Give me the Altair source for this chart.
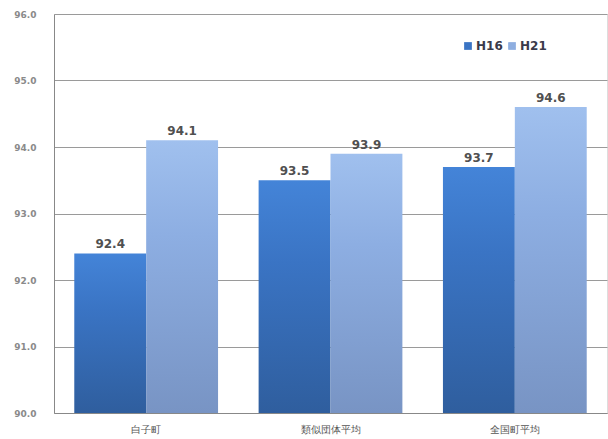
import altair as alt
import pandas as pd

categories = ["白子町", "類似団体平均", "全国町平均"]
series = ["H16", "H21"]
h16 = [92.4, 93.5, 93.7]
h21 = [94.1, 93.9, 94.6]

rows = []
for c, a, b in zip(categories, h16, h21):
    rows.append({"cat": c, "series": "H16", "value": a})
    rows.append({"cat": c, "series": "H21", "value": b})
df = pd.DataFrame(rows)

dark = alt.Gradient(gradient="linear", x1=0, y1=0, x2=0, y2=1,
                    stops=[alt.GradientStop(color="#4484d8", offset=0),
                           alt.GradientStop(color="#3a74c4", offset=0.35),
                           alt.GradientStop(color="#2f5e9e", offset=1)])
light = alt.Gradient(gradient="linear", x1=0, y1=0, x2=0, y2=1,
                     stops=[alt.GradientStop(color="#a0c0ee", offset=0),
                            alt.GradientStop(color="#8daee2", offset=0.35),
                            alt.GradientStop(color="#7894c4", offset=1)])

x = alt.X("cat:N", sort=categories, title=None,
          scale=alt.Scale(paddingInner=0.22, paddingOuter=0.11),
          axis=alt.Axis(labelAngle=0, ticks=False, labelPadding=11, labelFontSize=10,
                        labelColor="#555555", domainColor="#888888"))
xo = alt.XOffset("series:N", sort=series, scale=alt.Scale(paddingInner=0, domain=series))
y = alt.Y("value:Q", title=None,
          scale=alt.Scale(domain=[90, 96], nice=False, zero=False),
          axis=alt.Axis(values=[90, 91, 92, 93, 94, 95, 96], format=".1f", ticks=False,
                        labelPadding=18, labelFontSize=9, labelFontWeight="bold",
                        labelColor="#8a8a8a", domainColor="#888888",
                        grid=True, gridColor="#9a9a9a", gridWidth=1))
y2 = alt.Y2(datum=90)

base = alt.Chart(df)

bars16 = base.transform_filter(alt.datum.series == "H16").mark_bar(color=dark).encode(
    x=x, xOffset=xo, y=y, y2=y2)
bars21 = base.transform_filter(alt.datum.series == "H21").mark_bar(color=light).encode(
    x=x, xOffset=xo, y=y, y2=y2)

labels = base.mark_text(dy=-9, fontSize=12, fontWeight="bold", color="#505050").encode(
    x=x, xOffset=xo, y=y, text=alt.Text("value:Q", format=".1f"))

legend_layer = base.mark_square(opacity=0).encode(
    x=x, xOffset=xo, y=y,
    color=alt.Color("series:N", sort=series,
                    scale=alt.Scale(domain=series, range=["#3a74c4", "#8eaee0"]),
                    legend=alt.Legend(title=None, orient="none", direction="horizontal",
                                      legendX=408, legendY=26, symbolType="square",
                                      symbolSize=60, symbolOpacity=1, symbolStrokeWidth=0,
                                      labelFontSize=12, labelFontWeight="bold",
                                      labelColor="#3a3a4a", columnPadding=3, labelOffset=2)))

chart = alt.layer(bars16, bars21, labels, legend_layer).properties(
    width=553, height=399,
    padding={"left": 54, "top": 14, "right": 1, "bottom": 26},
    autosize=alt.AutoSizeParams(type="none"),
).configure_view(stroke="#9a9a9a", strokeWidth=1).configure(
    font="DejaVu Sans", background="white")

chart.save("out.html", embed_options={"renderer": "svg", "actions": False})
